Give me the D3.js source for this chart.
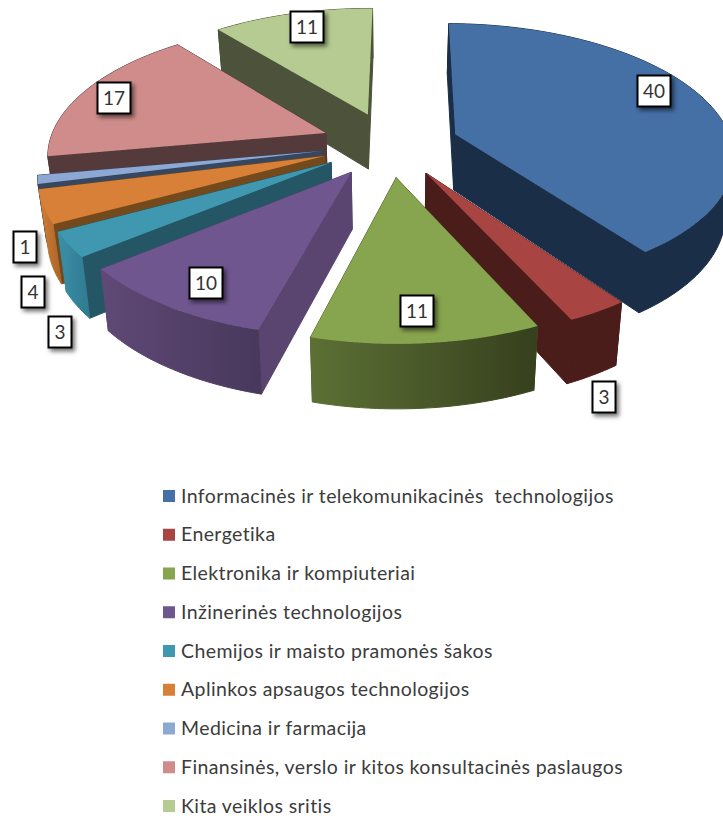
<!DOCTYPE html>
<html><head><meta charset="utf-8">
<style>html,body{margin:0;padding:0;background:#fff}svg{display:block}</style>
<script src="https://cdn.jsdelivr.net/npm/d3@7/dist/d3.min.js"></script></head>
<body><svg id="c" width="723" height="816"></svg>
<script>
const categories=["Informacinės ir telekomunikacinės  technologijos","Energetika","Elektronika ir kompiuteriai","Inžinerinės technologijos","Chemijos ir maisto pramonės šakos","Aplinkos apsaugos technologijos","Medicina ir farmacija","Finansinės, verslo ir kitos konsultacinės paslaugos","Kita veiklos sritis"];
const values=[40,3,11,10,3,4,1,17,11];
const topColors=["#4470a6","#a84543","#87a44e","#6f568f","#3f97b0","#d98038","#8ea8d4","#cf8c8a","#b5cb91"];
const wallColors=["#1b2e47","#4a1c1a","#4d5f2c","#5a4570","#255665","#744a1c","#36475f","#553a3b","#4c533a"];
const rimLeft=["#1b2e47","#4a1c1a","#5c7035","#5f4976","#3c8fa8","#d38038","#36475f","#553a3b","#4c533a"];
const rimRight=["#1b2e47","#4a1c1a","#36401d","#48385c","#2f7a90","#a8642a","#36475f","#553a3b","#4c533a"];
const labelX=[654,604,417,206,60,33,25,114,307];
const labelY=[91,397,311,283,332,292,247,98,27];

const explode=.25, radius=1, persp=.15, depth=56, shrink=.975, rotation=.008;
const cx=390, cy=144, A=277, B=130;
const scaleX=d3.scaleLinear().domain([0,1]).range([0,A]);
const scaleZ=d3.scaleLinear().domain([0,1]).range([0,B]);
function project(X,Z,bottom){
  const s=1/(1-persp*Z), k=bottom?shrink:1;
  return [cx+scaleX(X)*s*k, cy+scaleZ(Z)*s+(bottom?depth*(.3+.7*s):0)];
}
const svg=d3.select("#c"), defs=svg.append("defs");
const f=defs.append("filter").attr("id","sh").attr("x","-30%").attr("y","-30%").attr("width","170%").attr("height","170%");
f.append("feDropShadow").attr("dx",2.5).attr("dy",3).attr("stdDeviation",2).attr("flood-color","#000").attr("flood-opacity",.55);

const pie=d3.pie().sort(null).startAngle(rotation).endAngle(2*Math.PI+rotation);
const arcs=pie(values).map((d,i)=>{
  const mid=(d.startAngle+d.endAngle)/2;
  return {i,a0:d.startAngle,a1:d.endAngle,ox:explode*Math.sin(mid),oz:-explode*Math.cos(mid)};
});
const line=d3.line();
const pt=(o,a,r,b)=>project(o.ox+r*Math.sin(a),o.oz-r*Math.cos(a),b);

arcs.slice().sort((p,q)=>p.oz-q.oz).forEach(o=>{
  const n=Math.max(4,Math.ceil((o.a1-o.a0)*40));
  const as=d3.range(n+1).map(k=>o.a0+(o.a1-o.a0)*k/n);
  const g=svg.append("g");
  const walls=[
    {z:o.oz-Math.cos(o.a0)/2,p:[pt(o,0,0,false),pt(o,o.a0,radius,false),pt(o,o.a0,radius,true),pt(o,0,0,true)],fill:wallColors[o.i]},
    {z:o.oz-Math.cos(o.a1)/2,p:[pt(o,0,0,false),pt(o,o.a1,radius,false),pt(o,o.a1,radius,true),pt(o,0,0,true)],fill:wallColors[o.i]}
  ];
  const rim=as.map(a=>pt(o,a,radius,false)).concat(as.slice().reverse().map(a=>pt(o,a,radius,true)));
  const gid="rim"+o.i;
  const xs=rim.map(p=>p[0]);
  const lg=defs.append("linearGradient").attr("id",gid).attr("gradientUnits","userSpaceOnUse")
    .attr("x1",d3.min(xs)).attr("x2",d3.max(xs)).attr("y1",0).attr("y2",0);
  lg.append("stop").attr("offset",0).attr("stop-color",rimLeft[o.i]);
  lg.append("stop").attr("offset",1).attr("stop-color",rimRight[o.i]);
  walls.push({z:o.oz-Math.cos((o.a0+o.a1)/2),p:rim,fill:`url(#${gid})`});
  walls.sort((p,q)=>p.z-q.z).forEach(w=>{
    g.append("path").attr("d",line(w.p)+"Z").attr("fill",w.fill).attr("stroke",w.fill).attr("stroke-width",1);
  });
  const topPts=[pt(o,0,0,false)].concat(as.map(a=>pt(o,a,radius,false)));
  g.append("path").attr("d",line(topPts)+"Z").attr("fill",topColors[o.i]);
});

values.forEach((v,i)=>{
  const w=String(v).length>1?33:23,h=31;
  const g=svg.append("g").attr("transform",`translate(${labelX[i]},${labelY[i]})`);
  g.append("rect").attr("x",-w/2).attr("y",-h/2).attr("width",w).attr("height",h)
    .attr("fill","#fff").attr("stroke","#000").attr("stroke-width",2).attr("filter","url(#sh)");
  g.append("text").attr("text-anchor","middle").attr("y",7).attr("font-family","Lato").attr("font-size",19).attr("fill","#333").text(v);
});

const legendY=d3.scalePoint().domain(d3.range(categories.length)).range([496,806]);
categories.forEach((c,i)=>{
  svg.append("rect").attr("x",163).attr("y",legendY(i)-6).attr("width",12).attr("height",12).attr("fill",topColors[i]);
  svg.append("text").attr("x",181).attr("y",legendY(i)+6.5).attr("font-family","Lato").attr("font-size",19.5).attr("letter-spacing",.4).attr("fill","#3c3c3c").style("white-space","pre").text(c);
});
</script></body></html>
